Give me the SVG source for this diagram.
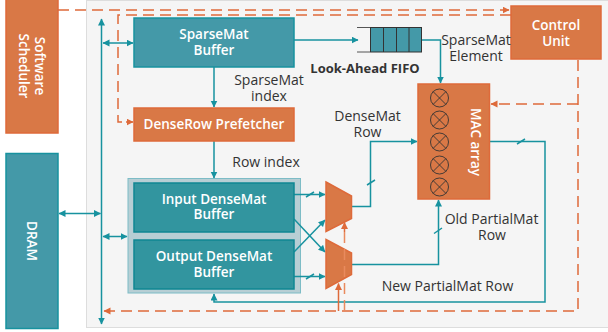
<svg xmlns="http://www.w3.org/2000/svg" width="608" height="332" viewBox="0 0 608 332">
<style>
text{font-family:"Open Sans","Noto Sans","Liberation Sans",sans-serif;font-size:14px;fill:#333;text-anchor:middle}
.w{fill:#fff;font-weight:600;font-size:13.5px}
.teal{fill:#4499a8;stroke:#17929f;stroke-width:1.5}
.dk{fill:#32959f;stroke:#0f8792;stroke-width:1.5}
.or{fill:#d97846;stroke:#de6a3a;stroke-width:1.5}
.c{fill:none;stroke:#17929f;stroke-width:1.5}
.d{fill:none;stroke:#de6a3a;stroke-width:1.5;stroke-dasharray:11 6}
.s{fill:none;stroke:#de6a3a;stroke-width:1.5}
.x{fill:none;stroke:#333;stroke-width:.9}
</style>
<defs>
<marker id="t" markerWidth="8" markerHeight="8" refX="6.5" refY="3.500" orient="auto-start-reverse" markerUnits="userSpaceOnUse"><path d="M0 0L7 3.500L0 7Z" fill="#17929f"/></marker>
<marker id="o" markerWidth="8" markerHeight="8" refX="6.5" refY="3.500" orient="auto-start-reverse" markerUnits="userSpaceOnUse"><path d="M0 0L7 3.500L0 7Z" fill="#de6a3a"/></marker>
</defs>
<rect width="608" height="332" fill="#fff"/>
<rect x="86.500" y="0.500" width="523" height="327" fill="#f5f5f5" stroke="#ddd"/>
<g id="group-box"><rect x="128" y="178.500" width="172.500" height="114.500" fill="#b7ced4" stroke="#7dbcc6"/></g>
<g id="connectors">
<path class="c" d="M101.500 19V324" marker-start="url(#t)" marker-end="url(#t)"/>
<path class="c" d="M103 43H133" marker-start="url(#t)" marker-end="url(#t)"/>
<path class="c" d="M59 213.500H100.500" marker-start="url(#t)" marker-end="url(#t)"/>
<path class="c" d="M103 236.500H127" marker-start="url(#t)" marker-end="url(#t)"/>
<path class="c" d="M214 67V107" marker-end="url(#t)"/>
<path class="c" d="M214 141V178" marker-end="url(#t)"/>
<path class="c" d="M294 40H358" marker-end="url(#t)"/>
<path class="c" d="M421 40H440.500V83" marker-end="url(#t)"/>
<path class="c" d="M294 194.500H325" marker-end="url(#t)"/>
<path class="c" d="M294 276.500H325" marker-end="url(#t)"/>
<path class="c" d="M294 219L325 252" marker-end="url(#t)"/>
<path class="c" d="M294 252L325 220" marker-end="url(#t)"/>
<path class="c" d="M351 206.500H370.500V141.500H417" marker-end="url(#t)"/>
<path class="c" d="M351 264.500H438.500V200" marker-end="url(#t)"/>
<path class="c" d="M489 141.500H545V302H214V294" marker-end="url(#t)"/>
<path class="c" d="M367 185L375 180M434 233.500L442 228M517 144L525 139M306 197L314 192M306 279L314 274"/>
<path class="d" d="M58 10H509" marker-end="url(#o)"/>
<path class="d" d="M511 15H118V122H128"/>
<path class="s" d="M126 122H133" marker-end="url(#o)"/>
<path class="d" d="M578 60V311H104" marker-end="url(#o)"/>
<path class="d" d="M578 104H491" marker-end="url(#o)"/>
</g>
<g id="software-scheduler"><rect class="or" x="6" y="-2" width="52" height="135"/><text class="w" transform="translate(35 66) rotate(90)">Software</text><text class="w" transform="translate(19 66) rotate(90)">Scheduler</text></g>
<g id="dram"><rect class="teal" x="6" y="153.500" width="52" height="175"/><text class="w" transform="translate(27 241) rotate(90)">DRAM</text></g>
<g id="sparsemat-buffer"><rect class="teal" x="134" y="18" width="160" height="49"/><text class="w" x="214" y="39">SparseMat<tspan x="214" dy="16">Buffer</tspan></text></g>
<g id="denserow-prefetcher"><rect class="or" x="134" y="108" width="160" height="33"/><text class="w" x="214" y="129">DenseRow Prefetcher</text></g>
<g id="input-buffer"><rect class="dk" x="134" y="183" width="160" height="49"/><text class="w" x="214" y="204">Input DenseMat<tspan x="214" dy="15">Buffer</tspan></text></g>
<g id="output-buffer"><rect class="dk" x="134" y="240" width="160" height="49"/><text class="w" x="214" y="261">Output DenseMat<tspan x="214" dy="16">Buffer</tspan></text></g>
<g id="fifo"><path d="M357 27.500H370M357 52H370" stroke="#555" fill="none"/><rect x="370.500" y="27.500" width="51" height="24.500" fill="#4499a8" stroke="#333"/><path d="M383.500 27.500V52M396.500 27.500V52M409 27.500V52" stroke="#333" fill="none"/><text x="365" y="73" style="font-weight:700;font-size:13px">Look-Ahead FIFO</text></g>
<g id="control-unit"><rect class="or" x="511" y="6" width="90" height="53"/><text class="w" x="556" y="30">Control<tspan x="556" dy="16">Unit</tspan></text></g>
<g id="mac-array"><rect class="or" x="418" y="84" width="71.500" height="115"/>
<text class="w" transform="translate(471 142) rotate(90)">MAC array</text>
<g id="mult"><circle class="x" cx="439.500" cy="98" r="9"/><path class="x" d="M433 91.500L446 104.500M446 91.500L433 104.500"/><circle class="x" cx="439.500" cy="120" r="9"/><path class="x" d="M433 113.500L446 126.500M446 113.500L433 126.500"/><circle class="x" cx="439.500" cy="142" r="9"/><path class="x" d="M433 135.500L446 148.500M446 135.500L433 148.500"/><circle class="x" cx="439.500" cy="165" r="9"/><path class="x" d="M433 158.500L446 171.500M446 158.500L433 171.500"/><circle class="x" cx="439.500" cy="187" r="9"/><path class="x" d="M433 180.500L446 193.500M446 180.500L433 193.500"/></g></g>
<g id="mux-1"><path class="or" d="M326 182L351.500 196V218.500L326 231.500Z"/></g>
<g id="mux-2"><path class="or" d="M326 239.500L351.500 253V274.500L326 288.500Z"/></g>
<g id="mux-control">
<path d="M344.500 311V228" fill="none" stroke="#e98a5e" stroke-width="1.500" stroke-dasharray="11 6"/>
<path class="s" d="M344.500 232V222.500" marker-end="url(#o)"/>
<path class="s" d="M338.500 311V283.500" marker-end="url(#o)"/>
</g>
<g id="labels">
<text x="269" y="85">SparseMat<tspan x="269" dy="16">index</tspan></text>
<text x="266" y="167">Row index</text>
<text x="367.500" y="121">DenseMat<tspan x="367.500" dy="16">Row</tspan></text>
<text x="476" y="45">SparseMat<tspan x="476" dy="16">Element</tspan></text>
<text x="491.500" y="224">Old PartialMat<tspan x="492" dy="16">Row</tspan></text>
<text x="447.500" y="291">New PartialMat Row</text>
</g>
</svg>
